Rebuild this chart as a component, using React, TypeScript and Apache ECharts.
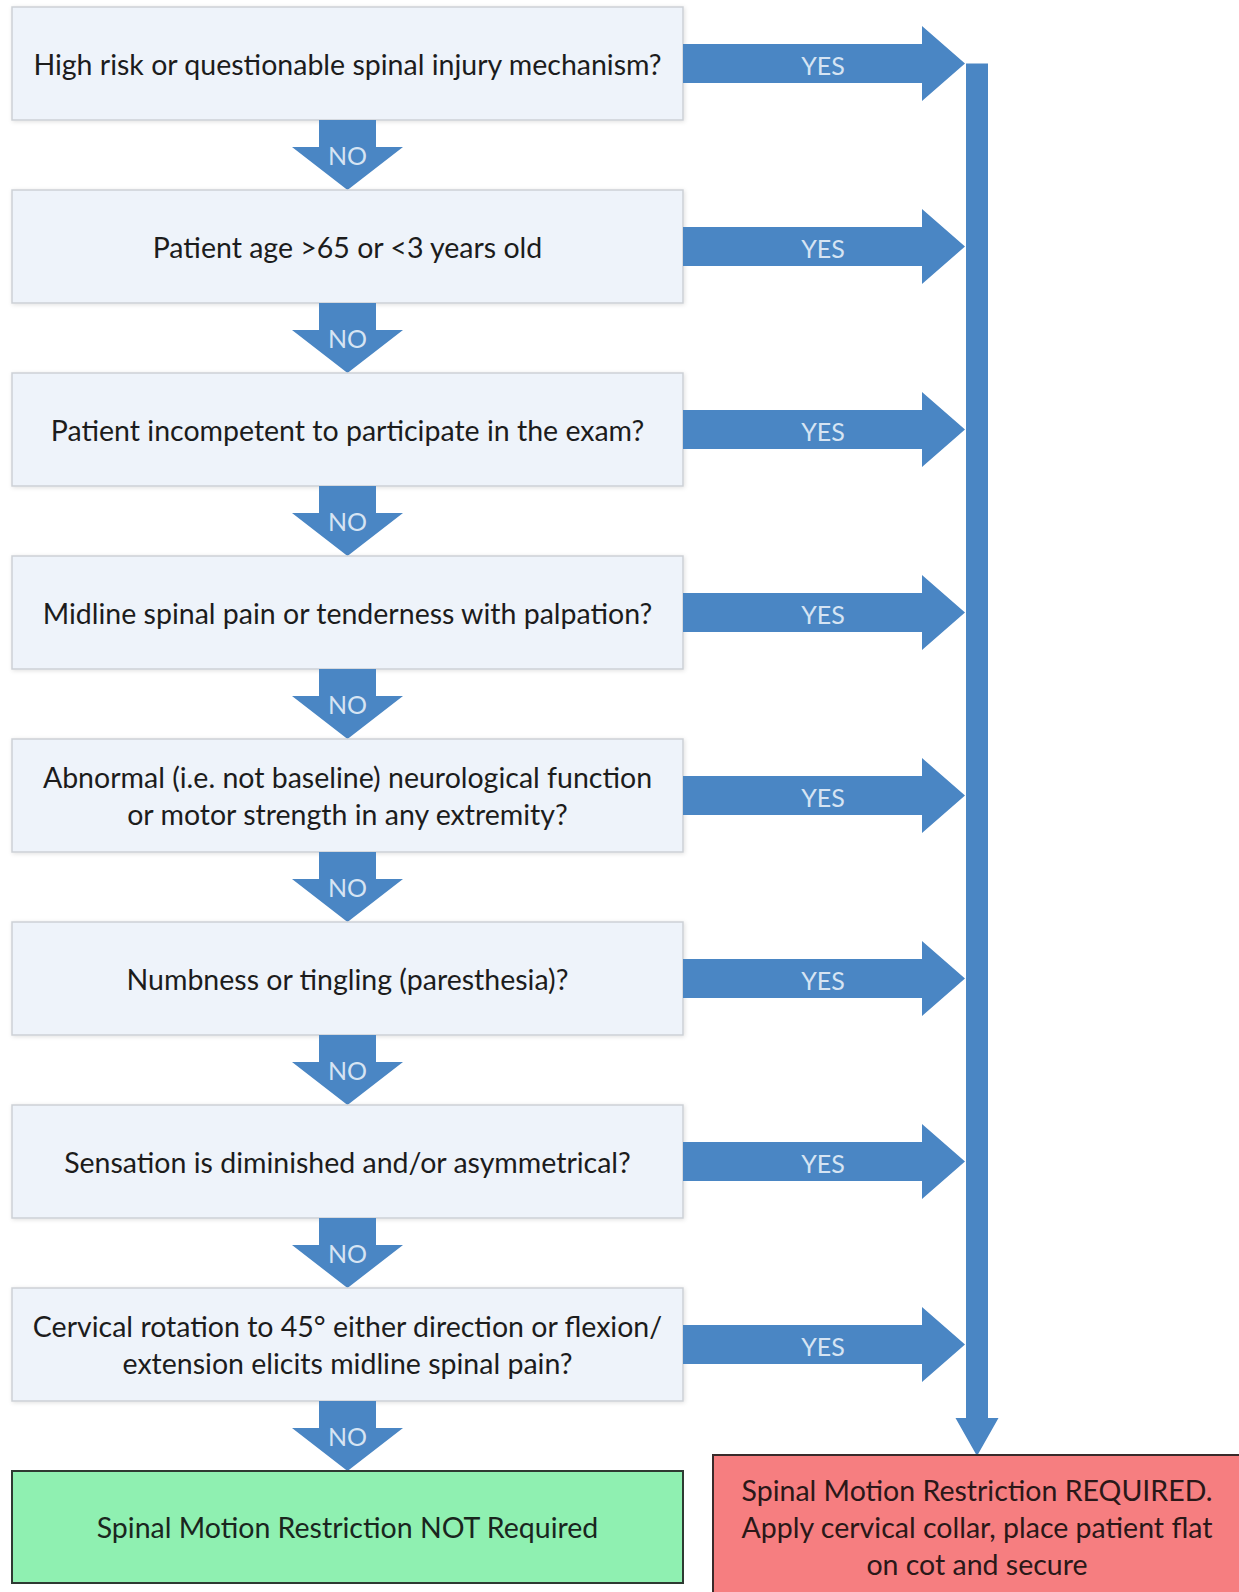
import React, { useEffect, useRef } from "react";
import * as echarts from "echarts";

// ---- Content (flowchart texts) ----
const questions: string[] = [
  "High risk or questionable spinal injury mechanism?",
  "Patient age >65 or <3 years old",
  "Patient incompetent to participate in the exam?",
  "Midline spinal pain or tenderness with palpation?",
  "Abnormal (i.e. not baseline) neurological function\nor motor strength in any extremity?",
  "Numbness or tingling (paresthesia)?",
  "Sensation is diminished and/or asymmetrical?",
  "Cervical rotation to 45° either direction or flexion/\nextension elicits midline spinal pain?",
];
const yesLabel = "YES";
const noLabel = "NO";
const outcomeNotRequired = "Spinal Motion Restriction NOT Required";
const outcomeRequired =
  "Spinal Motion Restriction REQUIRED.\nApply cervical collar, place patient flat\non cot and secure";

// ---- Layout constants ----
const W = 1239;
const H = 1592;
const BOX_X = 12;
const BOX_W = 671;
const BOX_Y0 = 7;
const BOX_H = 113;
const STEP = 183;
const FONT = "Lato, 'Open Sans', 'Noto Sans', sans-serif";
const FS = 28.5;
const LH = 37;
const BLUE = "#4a86c4";
const ARROW_TEXT = "#d6e4f3";

function buildGraphics() {
  const els: any[] = [];
  const cx = BOX_X + BOX_W / 2;

  questions.forEach((q, i) => {
    const y = BOX_Y0 + i * STEP;
    const cy = y + BOX_H / 2;
    // box
    els.push({
      type: "rect",
      shape: { x: BOX_X, y, width: BOX_W, height: BOX_H },
      style: {
        fill: "#eef3fa",
        stroke: "#cdd1d6",
        lineWidth: 1.5,
        shadowBlur: 4,
        shadowOffsetX: 1,
        shadowOffsetY: 1,
        shadowColor: "rgba(0,0,0,0.12)",
      },
    });
    els.push({
      type: "text",
      style: {
        text: q,
        x: cx,
        y: cy,
        align: "center",
        verticalAlign: "middle",
        font: `${FS}px ${FONT}`,
        lineHeight: LH,
        fill: "#1c1c1c",
      },
    });

    // YES arrow to the right
    const sx0 = BOX_X + BOX_W;
    const headX = 922;
    const tipX = 965;
    const sh = 19.5;
    const hh = 37.5;
    els.push({
      type: "polygon",
      shape: {
        points: [
          [sx0, cy - sh],
          [headX, cy - sh],
          [headX, cy - hh],
          [tipX, cy],
          [headX, cy + hh],
          [headX, cy + sh],
          [sx0, cy + sh],
        ],
      },
      style: { fill: BLUE },
    });
    els.push({
      type: "text",
      style: {
        text: yesLabel,
        x: 823,
        y: cy + 1,
        align: "center",
        verticalAlign: "middle",
        font: `25px ${FONT}`,
        fill: ARROW_TEXT,
      },
    });

    // NO arrow downward
    const top = y + BOX_H;
    const nextTop = BOX_Y0 + (i + 1) * STEP;
    const headY = top + 27;
    els.push({
      type: "polygon",
      shape: {
        points: [
          [cx - 28.5, top],
          [cx + 28.5, top],
          [cx + 28.5, headY],
          [cx + 55.5, headY],
          [cx, nextTop],
          [cx - 55.5, headY],
          [cx - 28.5, headY],
        ],
      },
      style: { fill: BLUE },
    });
    els.push({
      type: "text",
      style: {
        text: noLabel,
        x: cx,
        y: top + 35,
        align: "center",
        verticalAlign: "middle",
        font: `25px ${FONT}`,
        fill: ARROW_TEXT,
      },
    });
  });

  // vertical collector arrow
  const vx0 = 966;
  const vx1 = 988;
  const vTop = BOX_Y0 + BOX_H / 2;
  const vHead = 1418;
  const vTip = 1456;
  const vcx = (vx0 + vx1) / 2;
  els.push({
    type: "polygon",
    shape: {
      points: [
        [vx0, vTop],
        [vx1, vTop],
        [vx1, vHead],
        [vcx + 21.5, vHead],
        [vcx, vTip],
        [vcx - 21.5, vHead],
        [vx0, vHead],
      ],
    },
    style: { fill: BLUE },
  });

  // green outcome
  const gy = BOX_Y0 + questions.length * STEP;
  els.push({
    type: "rect",
    shape: { x: BOX_X, y: gy, width: BOX_W, height: 112 },
    style: { fill: "#8ff0b1", stroke: "#2e3a32", lineWidth: 2 },
  });
  els.push({
    type: "text",
    style: {
      text: outcomeNotRequired,
      x: cx,
      y: gy + 56,
      align: "center",
      verticalAlign: "middle",
      font: `${FS}px ${FONT}`,
      fill: "#1a261e",
    },
  });

  // red outcome
  const rx = 713;
  const ry = 1455;
  els.push({
    type: "rect",
    shape: { x: rx, y: ry, width: W - rx + 10, height: H - ry + 10 },
    style: { fill: "#f67e80", stroke: "#3a2a2a", lineWidth: 2 },
  });
  els.push({
    type: "text",
    style: {
      text: outcomeRequired,
      x: 977,
      y: 1527,
      align: "center",
      verticalAlign: "middle",
      font: `${FS}px ${FONT}`,
      lineHeight: 37,
      fill: "#2a1818",
    },
  });

  return els;
}

export default function App() {
  const ref = useRef<HTMLDivElement>(null);
  useEffect(() => {
    if (!ref.current) return;
    const chart = echarts.init(ref.current, undefined, { renderer: "svg" });
    chart.setOption({
      animation: false,
      backgroundColor: "#ffffff",
      graphic: { elements: buildGraphics() },
    });
    return () => chart.dispose();
  }, []);
  return (
    <div
      ref={ref}
      style={{ position: "fixed", left: 0, top: 0, width: W, height: H, background: "#fff" }}
    />
  );
}
